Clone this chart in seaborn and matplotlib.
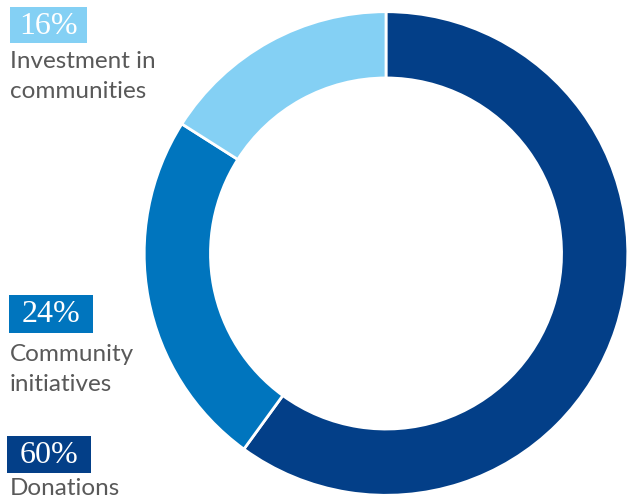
import seaborn as sns
import matplotlib.pyplot as plt
from matplotlib.patches import Rectangle

categories = ["Donations", "Community initiatives", "Investment in communities"]
shares = [60, 24, 16]
pct_labels = ["60%", "24%", "16%"]
text_labels = ["Donations", "Community\ninitiatives", "Investment in\ncommunities"]
colors = ["#033f88", "#0075be", "#84d0f4"]

W, H = 630, 499


def fx(px):
    return px / W


def fy(py):
    return 1 - py / H


sns.set_theme(style="white")
plt.rcParams['font.family'] = ['Lato', 'DejaVu Sans']

fig = plt.figure(figsize=(6.3, 4.99), dpi=100)
# donut axes in pixel terms: centre (386, 253.5), radius 243
ax = fig.add_axes([fx(143), fy(496.5), fx(486), 486 / H])
ax.pie(shares, colors=colors, startangle=90, counterclock=False, radius=1,
       wedgeprops=dict(width=0.274, edgecolor="white", linewidth=2))
ax.set_xlim(-1.005, 1.005)
ax.set_ylim(-1.005, 1.005)
ax.set_aspect("equal")
ax.axis("off")

# label blocks: (box left, box top, box right, box bottom, first baseline)
boxes = {
    "Investment in communities": (10, 7, 87, 43, 68),
    "Community initiatives": (9, 295, 93, 333, 361),
    "Donations": (7, 436, 91, 473, 495),
}
for cat, pct, txt, col in zip(categories, pct_labels, text_labels, colors):
    x0, y0, x1, y1, base = boxes[cat]
    fig.patches.append(Rectangle((fx(x0), fy(y1)), fx(x1 - x0), (y1 - y0) / H,
                                 transform=fig.transFigure, facecolor=col,
                                 edgecolor="none"))
    fig.text(fx((x0 + x1) / 2), fy((y0 + y1) / 2 + 1), pct, color="white",
             fontsize=23, family=['Liberation Serif', 'DejaVu Serif'],
             ha="center", va="center")
    for i, line in enumerate(txt.split("\n")):
        fig.text(fx(10), fy(base + i * 30), line, color="#595959",
                 fontsize=17.5, ha="left", va="baseline")

fig.savefig("out.png", dpi=100)
